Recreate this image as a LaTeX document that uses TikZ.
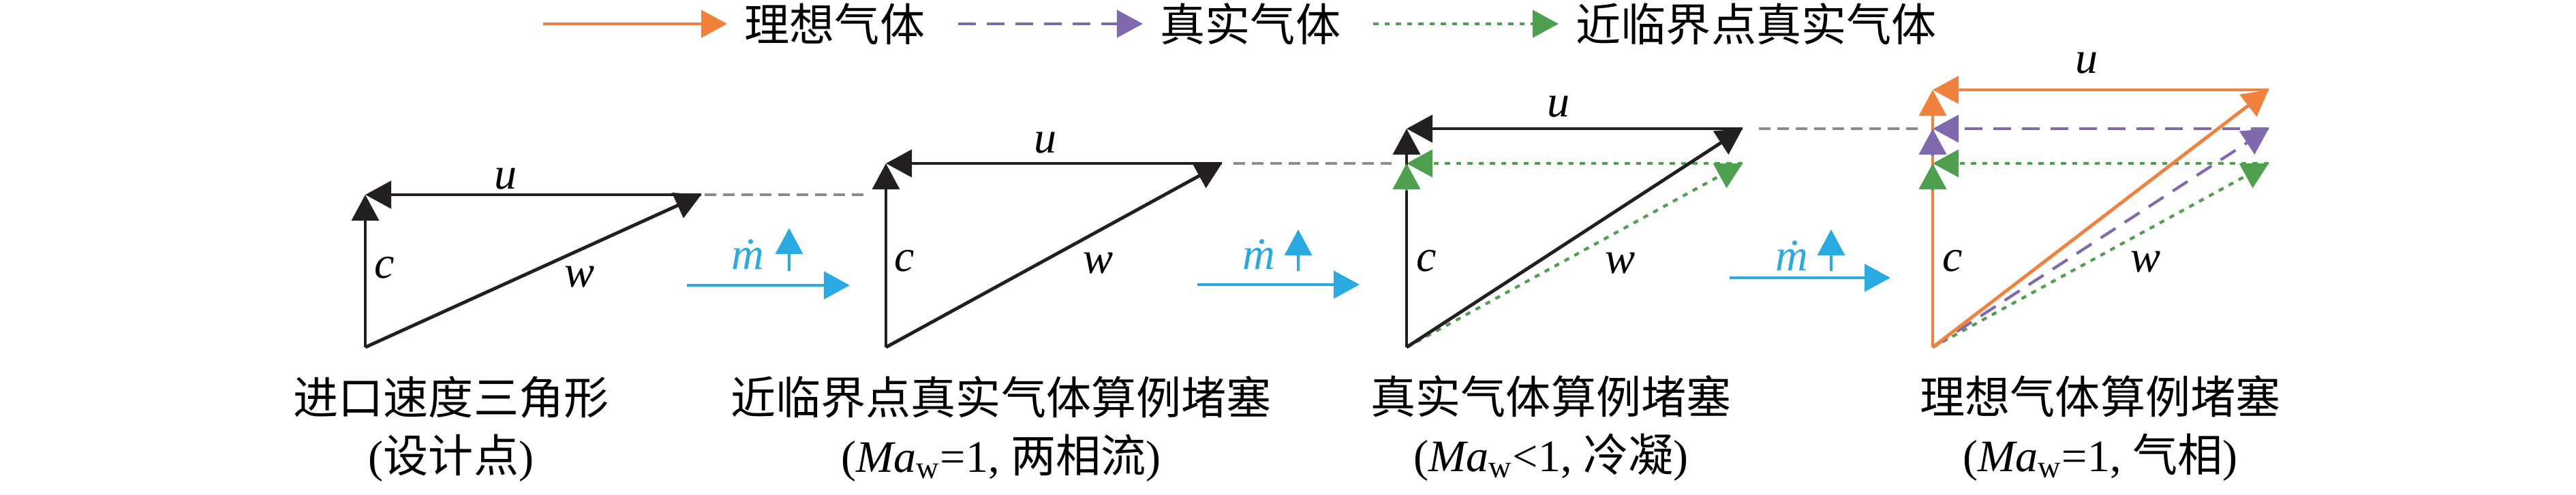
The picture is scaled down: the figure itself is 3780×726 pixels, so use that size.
\documentclass[tikz,border=0pt]{standalone}
\usepackage{fontspec}
\setmainfont{Liberation Serif}
\newfontfamily\cjk{Noto Sans CJK SC}
\usetikzlibrary{arrows.meta,calc,positioning}
\definecolor{vblack}{RGB}{35,31,32}
\definecolor{vorange}{RGB}{240,130,62}
\definecolor{vpurple}{RGB}{128,106,174}
\definecolor{vgreen}{RGB}{78,160,78}
\definecolor{vblue}{RGB}{41,171,226}
\definecolor{vgray}{RGB}{140,140,140}
\tikzset{
  vec/.style={line width=1.4pt,-{Triangle[length=3.8mm,width=4mm]}},
  blackvec/.style={vec,vblack},
  orangevec/.style={vec,vorange},
  purplevec/.style={vec,vpurple,line width=1.2pt,dash pattern=on 2.6mm off 1.6mm},
  greenvec/.style={vec,vgreen,line width=1.2pt,dash pattern=on 0.75mm off 0.9mm},
  cline/.style={line width=0.95pt},
  link/.style={vgray,line width=1.3pt,dash pattern=on 1.7mm off 1mm},
  flow/.style={vec,vblue,line width=1.4pt},
  txt/.style={inner sep=0pt,font=\fontsize{18.8}{24.2}\selectfont},
  caption/.style={txt,align=center}
}
\begin{document}
\begin{tikzpicture}[x=0.01cm,y=0.01cm]
  \fill[white] (0,0) rectangle (3780,726);
  \useasboundingbox (0,0) rectangle (3780,726);
  % legend
  \coordinate (l1a) at (797,691); \coordinate (l1b) at (1067,691);
  \coordinate (l2a) at (1406,691); \coordinate (l2b) at (1677,691);
  \coordinate (l3a) at (2015,691); \coordinate (l3b) at (2287,691);
  \draw[orangevec] (l1a) -- (l1b);
  \draw[purplevec] (l2a) -- (l2b);
  \draw[greenvec] (l3a) -- (l3b);
  \node[txt,right=0.25cm of l1b] (l1t) {\cjk 理想气体};
  \node[txt,right=0.25cm of l2b] (l2t) {\cjk 真实气体};
  \node[txt,right=0.25cm of l3b] (l3t) {\cjk 近临界点真实气体};
  % corners of the triangles
  \coordinate (o1) at (536,216);  \coordinate (c1) at (536,440);  \coordinate (u1) at (1029,440);
  \coordinate (o2) at (1300,216); \coordinate (c2) at (1300,486); \coordinate (u2) at (1793,486);
  \coordinate (o3) at (2064,216); \coordinate (c3) at (2064,537); \coordinate (u3) at (2557,537);
  \coordinate (g3c) at (2064,486); \coordinate (g3u) at (2557,486);
  \coordinate (o4) at (2836,216); \coordinate (c4) at (2836,594); \coordinate (u4) at (3329,594);
  \coordinate (p4c) at (2836,537); \coordinate (p4u) at (3329,537);
  \coordinate (g4c) at (2836,486); \coordinate (g4u) at (3329,486);
  % design point
  \draw[blackvec,cline] (o1) -- (c1);
  \draw[blackvec] (u1) -- (c1);
  \draw[blackvec] (o1) -- (u1);
  % near critical
  \draw[blackvec,cline] (o2) -- (c2);
  \draw[blackvec] (u2) -- (c2);
  \draw[blackvec] (o2) -- (u2);
  % real gas
  \draw[greenvec] (g3u) -- (g3c);
  \draw[greenvec] (o3) -- (g3u);
  \draw[blackvec,cline] (o3) -- (c3);
  \draw[blackvec] (u3) -- (c3);
  \draw[blackvec] (o3) -- (u3);
  \draw[greenvec,shorten <=2.3cm] (o3) -- (g3c);
  % ideal gas
  \draw[greenvec] (g4u) -- (g4c);
  \draw[greenvec] (o4) -- (g4u);
  \draw[purplevec] (p4u) -- (p4c);
  \draw[purplevec] (o4) -- (p4u);
  \draw[orangevec,cline] (o4) -- (c4);
  \draw[orangevec] (u4) -- (c4);
  \draw[orangevec] (o4) -- (u4);
  \draw[purplevec,shorten <=2.81cm] (o4) -- (p4c);
  \draw[greenvec,shorten <=2.3cm] (o4) -- (g4c);
  % dashed links
  \draw[link] ($(u1)+(5,0)$) -- ($(o2|-u1)+(-27,0)$);
  \draw[link] ($(u2)+(17,0)$) -- ($(o3|-u2)+(-22,0)$);
  \draw[link] ($(u3)+(24,0)$) -- ($(o4|-u3)+(-20,0)$);
  % labels
  \node[txt] (u1l) at (742,463) {\itshape u};
  \node[txt] (c1l) at (564,333) {\itshape c};
  \node[txt] (w1l) at (851,319) {\itshape w};
  \node[txt] (u2l) at (1534,516) {\itshape u};
  \node[txt] (c2l) at (1327,343) {\itshape c};
  \node[txt] (w2l) at (1612,339) {\itshape w};
  \node[txt] (u3l) at (2287,569) {\itshape u};
  \node[txt] (c3l) at (2093,343) {\itshape c};
  \node[txt] (w3l) at (2378,339) {\itshape w};
  \node[txt] (u4l) at (3062,633) {\itshape u};
  \node[txt] (c4l) at (2865,343) {\itshape c};
  \node[txt] (w4l) at (3149,341) {\itshape w};
  % mass flow
  \coordinate (f1a) at (1008,307); \coordinate (f1b) at (1247,307);
  \coordinate (f2a) at (1757,308); \coordinate (f2b) at (1995,308);
  \coordinate (f3a) at (2538,318); \coordinate (f3b) at (2774,318);
  \draw[flow] (f1a) -- (f1b);
  \draw[flow] (f2a) -- (f2b);
  \draw[flow] (f3a) -- (f3b);
  \draw[flow,line width=0.9pt] (1158,328) -- (1158,391);
  \draw[flow,line width=0.9pt] (1905,328) -- (1905,389);
  \draw[flow,line width=0.9pt] (2687,328) -- (2687,389);
  \node[txt,vblue] (m1) at (1097,352) {\itshape\.{m}};
  \node[txt,vblue] (m2) at (1847,352) {\itshape\.{m}};
  \node[txt,vblue] (m3) at (2629,350) {\itshape\.{m}};
  % captions
  \node[caption] (cap1) at (662,96) {{\cjk 进口速度三角形}\\({\cjk 设计点})};
  \node[caption] (cap2) at (1469,96) {{\cjk 近临界点真实气体算例堵塞}\\(\textit{Ma}\textsubscript{w}=1, {\cjk 两相流})};
  \node[caption] (cap3) at (2276,97) {{\cjk 真实气体算例堵塞}\\(\textit{Ma}\textsubscript{w}<1, {\cjk 冷凝})};
  \node[caption] (cap4) at (3082,97) {{\cjk 理想气体算例堵塞}\\(\textit{Ma}\textsubscript{w}=1, {\cjk 气相})};
\end{tikzpicture}
\end{document}
